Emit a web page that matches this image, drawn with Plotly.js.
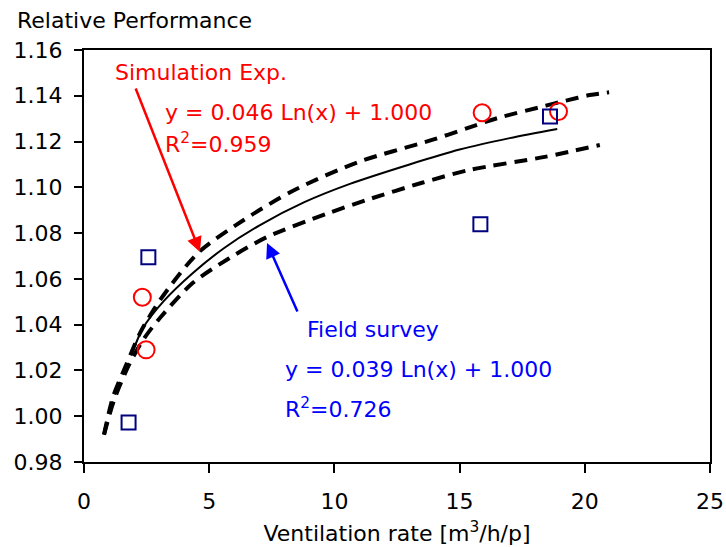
<!DOCTYPE html>
<html>
<head>
<meta charset="utf-8">
<script src="https://cdn.plot.ly/plotly-3.0.1.min.js"></script>
<style>html,body{margin:0;padding:0;background:#fff;}#chart{width:726px;height:547px;}</style>
</head>
<body>
<div id="chart"></div>
<script>
// Measured points
var simX = [2.33, 2.48, 15.9, 18.95];
var simY = [1.052, 1.029, 1.1326, 1.1331];
var fieldX = [1.78, 2.57, 15.83, 18.61];
var fieldY = [0.9973, 1.0695, 1.0839, 1.1309];

// Upper dashed curve (simulation fit)
var fitSimX = [0.8, 1.16, 1.72, 2.24, 3.04, 4.55, 6.35, 8.35, 10.94, 13.9, 15.4, 16.5, 18.45, 19.25, 20.2, 20.97];
var fitSimY = [0.9919, 1.0085, 1.0233, 1.0364, 1.0508, 1.0713, 1.0855, 1.0985, 1.111, 1.1207, 1.1262, 1.1302, 1.1357, 1.1379, 1.1403, 1.1415];

// Lower dashed curve (field survey fit)
var fitFieldX = [0.8, 1.2, 1.8, 2.4, 3.04, 4.35, 5.8, 7.31, 9.7, 11.3, 13.5, 15.4, 18.4, 20.6];
var fitFieldY = [0.992, 1.007, 1.0225, 1.034, 1.043, 1.0583, 1.069, 1.0783, 1.0885, 1.0945, 1.102, 1.1076, 1.1133, 1.1185];

// Solid mean curve
var meanX = [1.9, 2.36, 3.2, 4.35, 5.6, 7.03, 8.8, 10.62, 13.0, 15.0, 17.0, 18.9];
var meanY = [1.027, 1.0386, 1.0505, 1.0626, 1.0735, 1.0835, 1.0935, 1.1015, 1.110, 1.1165, 1.1215, 1.1255];

var xTitle = 'Ventilation rate [m<sup>3</sup>/h/p]';
var yTitle = 'Relative Performance';

var FONT = 'DejaVu Sans, Arial, sans-serif';

var traces = [
  {x: fitSimX, y: fitSimY, mode: 'lines', line: {color: '#000', width: 4, dash: '13px,8px', shape: 'spline', smoothing: 0.8}, hoverinfo: 'skip'},
  {x: fitFieldX, y: fitFieldY, mode: 'lines', line: {color: '#000', width: 4, dash: '13px,8px', shape: 'spline', smoothing: 0.8}, hoverinfo: 'skip'},
  {x: meanX, y: meanY, mode: 'lines', line: {color: '#000', width: 2, shape: 'spline', smoothing: 0.8}},
  {x: simX, y: simY, mode: 'markers', marker: {symbol: 'circle-open', size: 17, color: '#ff0000', line: {width: 2, color: '#ff0000'}}},
  {x: fieldX, y: fieldY, mode: 'markers', marker: {symbol: 'square-open', size: 14, color: '#000080', line: {width: 2, color: '#000080'}}}
];

var red = '#ff0000', blue = '#0000ff';
var annFont = function(c){ return {family: FONT, size: 22, color: c}; };

var layout = {
  width: 726, height: 547,
  margin: {l: 84, r: 16, t: 50, b: 85},
  paper_bgcolor: '#fff', plot_bgcolor: '#fff',
  showlegend: false,
  font: {family: FONT, size: 22, color: '#000'},
  xaxis: {
    range: [0, 25], dtick: 5, tick0: 0,
    ticks: 'outside', ticklen: 9, tickwidth: 2, tickcolor: '#000',
    showline: true, linewidth: 2, linecolor: '#000', mirror: true,
    showgrid: false, zeroline: false, ticklabelstandoff: 10,
    tickfont: {family: FONT, size: 22, color: '#000'},
    title: {text: xTitle, font: {family: FONT, size: 22, color: '#000'}, standoff: 12}
  },
  yaxis: {
    range: [0.98, 1.16], dtick: 0.02, tick0: 0.98, tickformat: '.2f',
    ticks: 'outside', ticklen: 8, tickwidth: 2, tickcolor: '#000',
    showline: true, linewidth: 2, linecolor: '#000', mirror: true,
    showgrid: false, zeroline: false, ticklabelstandoff: 7,
    tickfont: {family: FONT, size: 22, color: '#000'}
  },
  annotations: [
    {xref: 'paper', yref: 'paper', x: -0.1102, y: 1.0728, xanchor: 'left', yanchor: 'middle', text: yTitle, showarrow: false, font: annFont('#000')},
    {x: 1.16, y: 1.150, xanchor: 'left', yanchor: 'middle', text: 'Simulation Exp.', showarrow: false, font: annFont(red)},
    {x: 3.15, y: 1.1329, xanchor: 'left', yanchor: 'middle', text: 'y = 0.046 Ln(x) + 1.000', showarrow: false, font: annFont(red)},
    {x: 3.15, y: 1.1194, xanchor: 'left', yanchor: 'middle', text: 'R<sup>2</sup>=0.959', showarrow: false, font: annFont(red)},
    {x: 8.83, y: 1.0377, xanchor: 'left', yanchor: 'middle', text: 'Field survey', showarrow: false, font: annFont(blue)},
    {x: 7.95, y: 1.0203, xanchor: 'left', yanchor: 'middle', text: 'y = 0.039 Ln(x) + 1.000', showarrow: false, font: annFont(blue)},
    {x: 7.95, y: 1.0037, xanchor: 'left', yanchor: 'middle', text: 'R<sup>2</sup>=0.726', showarrow: false, font: annFont(blue)},
    {x: 4.63, y: 1.0718, ax: 2.04, ay: 1.1438, axref: 'x', ayref: 'y', text: '', showarrow: true, arrowhead: 2, arrowsize: 1.2, arrowwidth: 2.5, arrowcolor: red},
    {x: 7.31, y: 1.0757, ax: 8.55, ay: 1.0451, axref: 'x', ayref: 'y', text: '', showarrow: true, arrowhead: 2, arrowsize: 1.2, arrowwidth: 2.5, arrowcolor: blue}
  ]
};

Plotly.newPlot('chart', traces, layout, {displayModeBar: false, staticPlot: true});
</script>
</body>
</html>
